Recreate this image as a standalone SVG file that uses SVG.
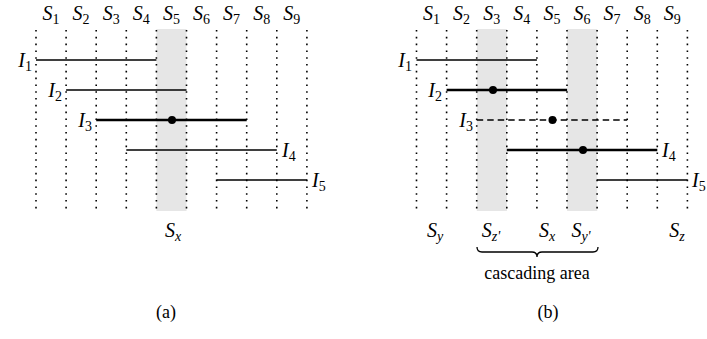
<svg xmlns="http://www.w3.org/2000/svg" width="707" height="339" viewBox="0 0 707 339">
<rect x="156.4" y="29" width="30.1" height="182" fill="#e6e6e6"/>
<rect x="476.8" y="29" width="30.1" height="182" fill="#e6e6e6"/>
<rect x="567.1" y="29" width="30.1" height="182" fill="#e6e6e6"/>
<g id="grid" stroke="#000" stroke-width="1.6" stroke-dasharray="1.6 5.2" fill="none">
<path d="M36,30V211M66.1,30V211M96.2,30V211M126.3,30V211M156.4,30V211M186.5,30V211M216.6,30V211M246.7,30V211M276.8,30V211M306.9,30V211"/>
<path d="M416.5,30V211M446.6,30V211M476.7,30V211M506.8,30V211M536.9,30V211M567,30V211M597.1,30V211M627.2,30V211M657.3,30V211M687.4,30V211"/>
</g>
<g id="intervals" stroke="#000" fill="none">
<path stroke-width="1.3" d="M36,60H156.4M66.1,90H186.5M126.3,150H276.8M216.6,180H306.9M416.5,60H536.9M597.1,180H687.4"/>
<path stroke-width="2.6" d="M96.2,120H246.7M446.6,90H567.1M506.8,150H657.3"/>
<path stroke-width="1.6" stroke-dasharray="6.5 4" d="M476.7,120H627.2"/>
<path stroke-width="1.3" d="M477,247 q0,5 5,5 L532,252 q5,0 5,5 q0,-5 5,-5 L593,252 q5,0 5,-5"/>
</g>
<g id="points" fill="#000">
<circle cx="172" cy="120" r="4"/>
<circle cx="493" cy="90" r="4"/>
<circle cx="552.5" cy="120" r="4"/>
<circle cx="583" cy="150" r="4"/>
</g>

<text x="51" y="20" text-anchor="middle" font-family="Liberation Serif, serif" font-style="italic" font-size="20">S<tspan dy="4" font-style="normal" font-size="14">1</tspan></text>
<text x="81.1" y="20" text-anchor="middle" font-family="Liberation Serif, serif" font-style="italic" font-size="20">S<tspan dy="4" font-style="normal" font-size="14">2</tspan></text>
<text x="111.2" y="20" text-anchor="middle" font-family="Liberation Serif, serif" font-style="italic" font-size="20">S<tspan dy="4" font-style="normal" font-size="14">3</tspan></text>
<text x="141.3" y="20" text-anchor="middle" font-family="Liberation Serif, serif" font-style="italic" font-size="20">S<tspan dy="4" font-style="normal" font-size="14">4</tspan></text>
<text x="171.4" y="20" text-anchor="middle" font-family="Liberation Serif, serif" font-style="italic" font-size="20">S<tspan dy="4" font-style="normal" font-size="14">5</tspan></text>
<text x="201.5" y="20" text-anchor="middle" font-family="Liberation Serif, serif" font-style="italic" font-size="20">S<tspan dy="4" font-style="normal" font-size="14">6</tspan></text>
<text x="231.6" y="20" text-anchor="middle" font-family="Liberation Serif, serif" font-style="italic" font-size="20">S<tspan dy="4" font-style="normal" font-size="14">7</tspan></text>
<text x="261.7" y="20" text-anchor="middle" font-family="Liberation Serif, serif" font-style="italic" font-size="20">S<tspan dy="4" font-style="normal" font-size="14">8</tspan></text>
<text x="291.8" y="20" text-anchor="middle" font-family="Liberation Serif, serif" font-style="italic" font-size="20">S<tspan dy="4" font-style="normal" font-size="14">9</tspan></text>

<text x="431.5" y="20" text-anchor="middle" font-family="Liberation Serif, serif" font-style="italic" font-size="20">S<tspan dy="4" font-style="normal" font-size="14">1</tspan></text>
<text x="461.6" y="20" text-anchor="middle" font-family="Liberation Serif, serif" font-style="italic" font-size="20">S<tspan dy="4" font-style="normal" font-size="14">2</tspan></text>
<text x="491.7" y="20" text-anchor="middle" font-family="Liberation Serif, serif" font-style="italic" font-size="20">S<tspan dy="4" font-style="normal" font-size="14">3</tspan></text>
<text x="521.8" y="20" text-anchor="middle" font-family="Liberation Serif, serif" font-style="italic" font-size="20">S<tspan dy="4" font-style="normal" font-size="14">4</tspan></text>
<text x="551.9" y="20" text-anchor="middle" font-family="Liberation Serif, serif" font-style="italic" font-size="20">S<tspan dy="4" font-style="normal" font-size="14">5</tspan></text>
<text x="582" y="20" text-anchor="middle" font-family="Liberation Serif, serif" font-style="italic" font-size="20">S<tspan dy="4" font-style="normal" font-size="14">6</tspan></text>
<text x="612.1" y="20" text-anchor="middle" font-family="Liberation Serif, serif" font-style="italic" font-size="20">S<tspan dy="4" font-style="normal" font-size="14">7</tspan></text>
<text x="642.2" y="20" text-anchor="middle" font-family="Liberation Serif, serif" font-style="italic" font-size="20">S<tspan dy="4" font-style="normal" font-size="14">8</tspan></text>
<text x="672.3" y="20" text-anchor="middle" font-family="Liberation Serif, serif" font-style="italic" font-size="20">S<tspan dy="4" font-style="normal" font-size="14">9</tspan></text>

<text x="32" y="67" text-anchor="end" font-family="Liberation Serif, serif" font-style="italic" font-size="20">I<tspan dy="4" font-style="normal" font-size="14">1</tspan></text>
<text x="62" y="97" text-anchor="end" font-family="Liberation Serif, serif" font-style="italic" font-size="20">I<tspan dy="4" font-style="normal" font-size="14">2</tspan></text>
<text x="92" y="127" text-anchor="end" font-family="Liberation Serif, serif" font-style="italic" font-size="20">I<tspan dy="4" font-style="normal" font-size="14">3</tspan></text>
<text x="282" y="157" font-family="Liberation Serif, serif" font-style="italic" font-size="20">I<tspan dy="4" font-style="normal" font-size="14">4</tspan></text>
<text x="312" y="187" font-family="Liberation Serif, serif" font-style="italic" font-size="20">I<tspan dy="4" font-style="normal" font-size="14">5</tspan></text>
<text x="173" y="237" text-anchor="middle" font-family="Liberation Serif, serif" font-style="italic" font-size="20">S<tspan dy="4" font-size="14">x</tspan></text>
<text x="166" y="318" text-anchor="middle" font-family="Liberation Serif, serif" font-size="18">(a)</text>

<text x="412" y="67" text-anchor="end" font-family="Liberation Serif, serif" font-style="italic" font-size="20">I<tspan dy="4" font-style="normal" font-size="14">1</tspan></text>
<text x="442" y="97" text-anchor="end" font-family="Liberation Serif, serif" font-style="italic" font-size="20">I<tspan dy="4" font-style="normal" font-size="14">2</tspan></text>
<text x="473" y="127" text-anchor="end" font-family="Liberation Serif, serif" font-style="italic" font-size="20">I<tspan dy="4" font-style="normal" font-size="14">3</tspan></text>
<text x="662" y="157" font-family="Liberation Serif, serif" font-style="italic" font-size="20">I<tspan dy="4" font-style="normal" font-size="14">4</tspan></text>
<text x="692" y="187" font-family="Liberation Serif, serif" font-style="italic" font-size="20">I<tspan dy="4" font-style="normal" font-size="14">5</tspan></text>
<text x="435" y="237" text-anchor="middle" font-family="Liberation Serif, serif" font-style="italic" font-size="20">S<tspan dy="4" font-size="14">y</tspan></text>
<text x="491" y="237" text-anchor="middle" font-family="Liberation Serif, serif" font-style="italic" font-size="20">S<tspan dy="4" font-size="14">z'</tspan></text>
<text x="547" y="237" text-anchor="middle" font-family="Liberation Serif, serif" font-style="italic" font-size="20">S<tspan dy="4" font-size="14">x</tspan></text>
<text x="581" y="237" text-anchor="middle" font-family="Liberation Serif, serif" font-style="italic" font-size="20">S<tspan dy="4" font-size="14">y'</tspan></text>
<text x="677" y="237" text-anchor="middle" font-family="Liberation Serif, serif" font-style="italic" font-size="20">S<tspan dy="4" font-size="14">z</tspan></text>
<text x="537" y="279" text-anchor="middle" font-family="Liberation Serif, serif" font-size="18">cascading area</text>
<text x="548" y="318" text-anchor="middle" font-family="Liberation Serif, serif" font-size="18">(b)</text>
</svg>
